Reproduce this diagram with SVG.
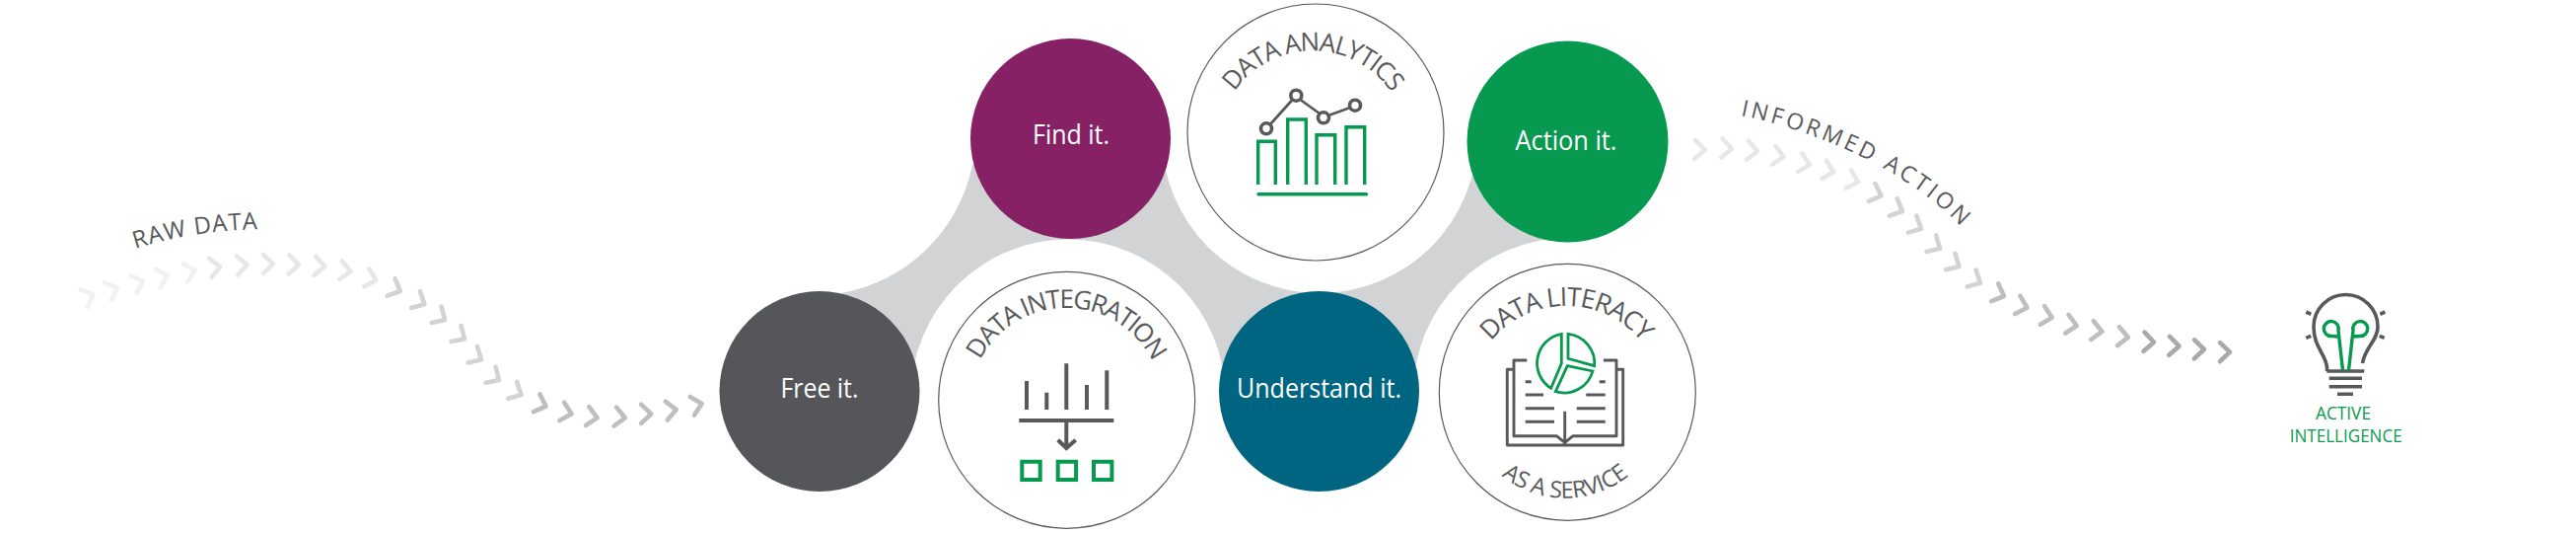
<svg xmlns="http://www.w3.org/2000/svg" xmlns:xlink="http://www.w3.org/1999/xlink" width="2612" height="541" viewBox="0 0 2612 541">
<style>
text{font-family:"Open Sans","Noto Sans","Liberation Sans",sans-serif}
.lab{fill:#fff;font-size:27px;text-anchor:middle}
.arc{fill:#58595b;font-size:26px;text-anchor:middle}
.ring{fill:#fff;stroke:#58595b;stroke-width:1.2}
.gi{fill:none;stroke:#58595b;stroke-width:3.6}
.gr{fill:none;stroke:#059a4e;stroke-width:3.4}
.ch{fill:none;stroke-width:4.6;stroke-linecap:round;stroke-linejoin:round}
.c1{stroke:#f1f1f2}.c2{stroke:#e6e7e8}.c3{stroke:#d1d3d4}.c4{stroke:#bcbec0}.c5{stroke:#a7a9ac}
</style>
<defs>
<path id="c" d="M-10,-9.5L0,0L-10,9.5"/>
<path id="pDA" d="M1247,100A97,97 0 0 1 1415,100"/>
<path id="pDI" d="M984,396A98,98 0 0 1 1178,396"/>
<path id="pDL" d="M1507,352A99,99 0 0 1 1669,352"/>
<path id="pAS" d="M1510,470A103,103 0 0 0 1664,470"/>
<path id="pRD" d="M137,252Q200,232 275,232"/>
<path id="pIA" d="M1765,117C1830,130 1925,165 1987,228"/>
</defs>
<g id="band">
<path fill="#d1d3d4" d="M853,297A165,165 0 0 0 986,167L1085,140L1185,150L1589,143L1589,260L1450,400L1337,396L1083,402L831,396Z"/>
<circle cx="1083" cy="402" r="159.5" fill="#fff"/>
<circle cx="1338" cy="137" r="160" fill="#fff"/>
<circle cx="1589.3" cy="397.3" r="156" fill="#fff"/>
</g>
<g id="connectors">
<g id="raw-chevrons" class="ch">
<use href="#c" class="c1" transform="translate(94.4,298.3) rotate(-23)"/>
<use href="#c" class="c1" transform="translate(118.9,291.7) rotate(-21)"/>
<use href="#c" class="c1" transform="translate(144.9,285) rotate(-19)"/>
<use href="#c" class="c1" transform="translate(169.9,279.3) rotate(-16)"/>
<use href="#c" class="c1" transform="translate(197.7,274) rotate(-13)"/>
<use href="#c" class="c2" transform="translate(223.2,270) rotate(-8)"/>
<use href="#c" class="c2" transform="translate(250.6,268.3) rotate(-4)"/>
<use href="#c" class="c2" transform="translate(277,267.3)"/>
<use href="#c" class="c2" transform="translate(303,268.3) rotate(2)"/>
<use href="#c" class="c2" transform="translate(329.4,270) rotate(5)"/>
<use href="#c" class="c2" transform="translate(355.4,275) rotate(8)"/>
<use href="#c" class="c2" transform="translate(381.3,284) rotate(16)"/>
<use href="#c" class="c3" transform="translate(405.8,295) rotate(24)"/>
<use href="#c" class="c3" transform="translate(430.4,308.3) rotate(28)"/>
<use href="#c" class="c3" transform="translate(451.2,324) rotate(31)"/>
<use href="#c" class="c3" transform="translate(471,343.3) rotate(32)"/>
<use href="#c" class="c3" transform="translate(488,364.3) rotate(30)"/>
<use href="#c" class="c3" transform="translate(506,385) rotate(32)"/>
<use href="#c" class="c3" transform="translate(528.5,400) rotate(28)"/>
<use href="#c" class="c4" transform="translate(553.6,411.7) rotate(20)"/>
<use href="#c" class="c4" transform="translate(579.5,419.3) rotate(14)"/>
<use href="#c" class="c4" transform="translate(605.5,423.3) rotate(10)"/>
<use href="#c" class="c4" transform="translate(633.8,423.3) rotate(7)"/>
<use href="#c" class="c4" transform="translate(660.2,419.3)"/>
<use href="#c" class="c4" transform="translate(685.7,415) rotate(-6)"/>
<use href="#c" class="c4" transform="translate(711.6,409) rotate(-13)"/>
</g>
<g id="action-chevrons" class="ch">
<use href="#c" class="c2" transform="translate(1728.6,151.7) rotate(2)"/>
<use href="#c" class="c2" transform="translate(1756,150.7) rotate(4)"/>
<use href="#c" class="c2" transform="translate(1782,153.3) rotate(6)"/>
<use href="#c" class="c2" transform="translate(1808.6,159) rotate(10)"/>
<use href="#c" class="c2" transform="translate(1835,166.7) rotate(12)"/>
<use href="#c" class="c2" transform="translate(1859.3,174.3) rotate(14)"/>
<use href="#c" class="c2" transform="translate(1884,184.3) rotate(16)"/>
<use href="#c" class="c3" transform="translate(1907.5,198.3) rotate(20)"/>
<use href="#c" class="c3" transform="translate(1929,214) rotate(24)"/>
<use href="#c" class="c3" transform="translate(1948,231.7) rotate(27)"/>
<use href="#c" class="c3" transform="translate(1967,251.7) rotate(30)"/>
<use href="#c" class="c3" transform="translate(1986.4,270) rotate(30)"/>
<use href="#c" class="c3" transform="translate(2008,286.7) rotate(28)"/>
<use href="#c" class="c4" transform="translate(2032,300) rotate(22)"/>
<use href="#c" class="c4" transform="translate(2055.4,311.7) rotate(16)"/>
<use href="#c" class="c4" transform="translate(2080.7,321.7) rotate(13)"/>
<use href="#c" class="c4" transform="translate(2105.7,330) rotate(10)"/>
<use href="#c" class="c4" transform="translate(2131.4,336) rotate(8)"/>
<use href="#c" class="c4" transform="translate(2157.9,341.7) rotate(6)"/>
<use href="#c" class="c5" transform="translate(2184,346.7) rotate(3)"/>
<use href="#c" class="c5" transform="translate(2209.6,350.7) rotate(2)"/>
<use href="#c" class="c5" transform="translate(2235,354) rotate(1)"/>
<use href="#c" class="c5" transform="translate(2261,356.6)"/>
</g>
</g>
<text font-size="24" fill="#58595b" letter-spacing="1"><textPath href="#pRD">RAW DATA</textPath></text>
<text font-size="23" fill="#58595b" letter-spacing="3.3"><textPath href="#pIA">INFORMED ACTION</textPath></text>
<g id="free"><circle cx="831" cy="396.5" r="101.5" fill="#55565a"/><text class="lab" x="831" y="403" textLength="79" lengthAdjust="spacingAndGlyphs">Free it.</text></g>
<g id="find"><circle cx="1085.5" cy="140.5" r="101.5" fill="#862165"/><text class="lab" x="1086" y="146" textLength="78" lengthAdjust="spacingAndGlyphs">Find it.</text></g>
<g id="understand"><circle cx="1337.5" cy="396.5" r="101.5" fill="#006580"/><text class="lab" x="1337.5" y="403" textLength="167" lengthAdjust="spacingAndGlyphs">Understand it.</text></g>
<g id="action"><circle cx="1589.5" cy="143.5" r="102" fill="#07994f"/><text class="lab" x="1588" y="152" textLength="103" lengthAdjust="spacingAndGlyphs">Action it.</text></g>
<g id="data-analytics">
<circle class="ring" cx="1334" cy="134" r="130"/>
<text class="arc" letter-spacing="-1.4"><textPath href="#pDA" startOffset="50%">DATA ANALYTICS</textPath></text>
<path class="gr" d="M1275.7,187V143.3H1293.3V187M1305.7,187V121H1324.3V187M1335,187V136.7H1353.7V187M1365,187V128.7H1383.7V187"/>
<path class="gr" stroke-linecap="round" d="M1276,196.7H1385.5"/>
<path class="gi" style="stroke-width:2.7" d="M1288,126L1310.5,101M1318.5,101L1338,115M1347,117L1369,109"/>
<circle class="gi" cx="1284" cy="130.3" r="5.5"/><circle class="gi" cx="1314.3" cy="96.7" r="5.5"/><circle class="gi" cx="1342" cy="119.3" r="5.5"/><circle class="gi" cx="1374" cy="106.7" r="5.5"/>
</g>
<g id="data-integration">
<circle class="ring" cx="1081.7" cy="405.3" r="130"/>
<text class="arc" letter-spacing="-1.7"><textPath href="#pDI" startOffset="50%">DATA INTEGRATION</textPath></text>
<path class="gi" style="stroke-width:4" d="M1041,386V415M1061.3,397.7V415M1081.3,368.3V415M1102,390V415M1122.3,375.3V415M1033.3,426H1129.3M1081.3,426V453M1072.7,445.7L1081.3,454L1090.7,445.7"/>
<path class="gr" style="stroke-width:4" d="M1036.3,467.7h18.4v18.4h-18.4zM1072.7,467.7h18.4v18.4h-18.4zM1109,467.7h18.4v18.4h-18.4z"/>
</g>
<g id="data-literacy">
<circle class="ring" cx="1589.3" cy="397.3" r="130"/>
<text class="arc" style="font-size:26.5px" letter-spacing="-1.2"><textPath href="#pDL" startOffset="50%">DATA LITERACY</textPath></text>
<text class="arc" style="font-size:23.5px" letter-spacing="-0.4"><textPath href="#pAS" startOffset="50%">AS A SERVICE</textPath></text>
<path class="gi" style="stroke-width:2.9" stroke-linejoin="round" d="M1534.3,374.3H1528.3V451H1645.7V374.3H1640M1548.3,365H1535V441.7H1578.3L1586.7,448.3L1595,441.7H1639V365H1626M1586.7,416.7V450M1546.7,386.7H1552.7M1546.7,400H1565M1546.7,413.7H1576M1546.7,427.3H1576M1621.7,386.7H1627.7M1608.3,400H1627.7M1598.7,413.7H1627.7M1598.7,427.3H1627.7"/>
<path class="gr" style="stroke-width:2.8" d="M1583.3,338.3A30,30 0 0 0 1572.7,393.3L1583.3,368.3ZM1590,338.3A30,30 0 0 1 1616.7,370.7L1590,363.3ZM1615,376A30,30 0 0 1 1577.3,396.7L1589.3,370.7Z"/>
</g>
<g id="active-intelligence">
<path class="gi" d="M2359.5,376V372C2358,358 2346,352 2346,331A32.5,32.5 0 1 1 2411,331C2411,345 2398,352 2395.5,368"/>
<path class="gi" d="M2359.3,376H2397.3M2361.7,383.3H2395M2361.7,391.7H2395M2370,399.3H2386M2338.3,316L2343.3,318.3M2338.3,342.3L2343.3,340.3M2413.3,318.3L2418.3,316M2412.7,340.3L2417.7,342.3"/>
<path class="gr" d="M2375.5,375L2371,335A7.5,7.5 0 1 0 2364,340.5L2371,341M2381.5,375L2386,335A7.5,7.5 0 1 1 2393,340.5L2386,341"/>
<text x="2376" y="425" font-size="18.5" fill="#059a4e" text-anchor="middle" textLength="56" lengthAdjust="spacingAndGlyphs">ACTIVE</text>
<text x="2378.7" y="447.5" font-size="18.5" fill="#059a4e" text-anchor="middle" textLength="114" lengthAdjust="spacingAndGlyphs">INTELLIGENCE</text>
</g>
</svg>
